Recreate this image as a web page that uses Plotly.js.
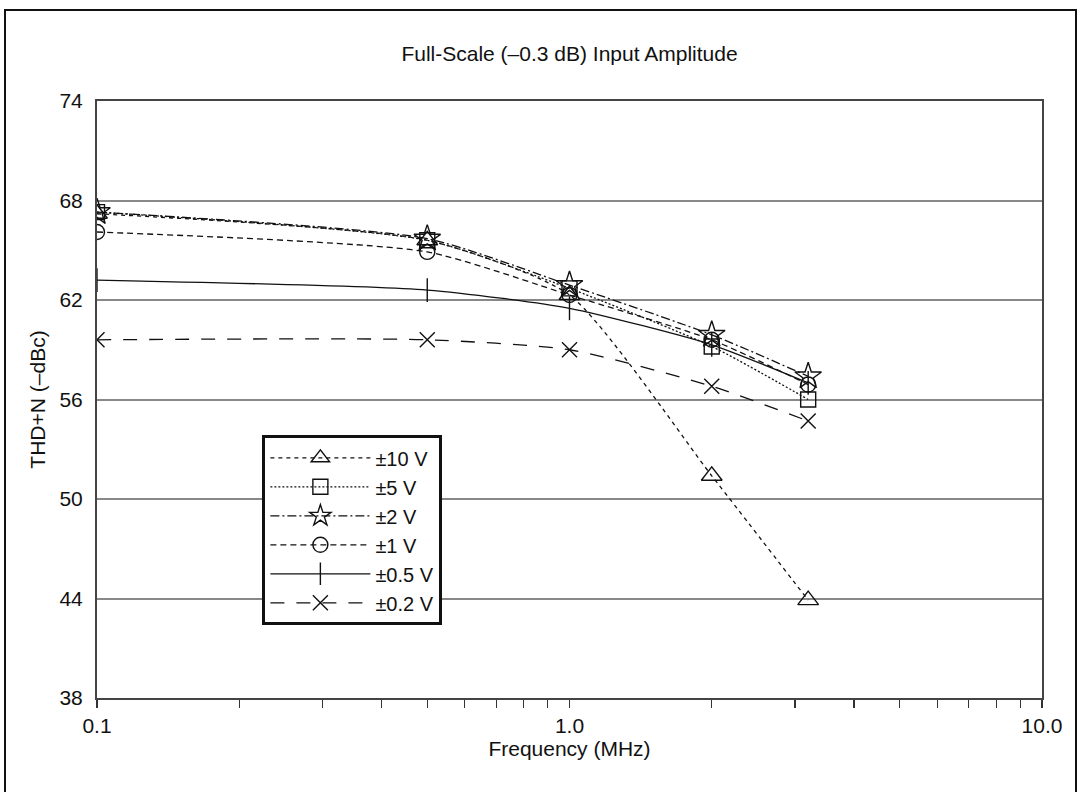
<!DOCTYPE html>
<html>
<head>
<meta charset="utf-8">
<script src="https://cdn.plot.ly/plotly-3.0.1.min.js"></script>
<style>
  html, body { margin: 0; padding: 0; background: #fff; }
  #frame { position: absolute; left: 4px; top: 9px; width: 1073px; height: 800px; border: 2.5px solid #111; box-sizing: border-box; }
  #chart { position: absolute; left: 0; top: 0; width: 1079px; height: 792px; }
</style>
</head>
<body>
<div id="frame"></div>
<div id="chart"></div>
<script>
// Frequencies (MHz)
const freq = [0.1, 0.5, 1.0, 2.0, 3.2];
// THD+N (-dBc) per input range
const v10  = [67.2, 65.6, 62.3, 51.4, 43.9];
const v5   = [67.3, 65.6, 62.7, 59.2, 56.0];
const v2   = [67.3, 65.7, 62.9, 59.9, 57.4];
const v1   = [66.1, 64.9, 62.3, 59.6, 56.9];
const v05  = [63.2, 62.6, 61.5, 59.3, 57.0];
const v02  = [59.6, 59.6, 59.0, 56.8, 54.7];
const seriesNames = ['±10 V', '±5 V', '±2 V', '±1 V', '±0.5 V', '±0.2 V'];
const xTickVals = [0.1,0.2,0.3,0.4,0.5,0.6,0.7,0.8,0.9,1,2,3,4,5,6,7,8,9,10];
const xTickText = ['0.1','','','','','','','','','1.0','','','','','','','','','10.0'];
const yTickVals = [38, 44, 50, 56, 62, 68, 74];

const values = [v10, v5, v2, v1, v05, v02];
const symbols = ['triangle-up-open','square-open','star-open','circle-open','line-ns-open','x-thin-open'];
const dashes = ['4px,4px','2px,2px','9px,3px,2px,3px','6px,4px','solid','14px,12px'];
const sizes = [18, 15, 20, 15, 17, 15];

const traces = values.map((v, i) => ({
  x: freq, y: v, name: seriesNames[i], type: 'scatter', mode: 'lines+markers',
  line: {color: '#111', width: 1.3, dash: dashes[i], shape: 'spline', smoothing: 0.6},
  marker: {symbol: symbols[i], size: sizes[i], color: '#111', line: {color: '#111', width: 1.4}}
}));

const layout = {
  width: 1079, height: 792,
  paper_bgcolor: 'rgba(0,0,0,0)', plot_bgcolor: '#fff',
  margin: {l: 97, r: 37, t: 101, b: 94},
  font: {family: 'Liberation Sans, Arial, sans-serif', color: '#111', size: 20},
  title: {text: 'Full-Scale (–0.3 dB) Input Amplitude', x: 0.5, xref: 'paper', y: 0.932, yanchor: 'middle', font: {size: 21}},
  xaxis: {
    type: 'log', range: [-1, 1],
    tickvals: xTickVals, ticktext: xTickText,
    ticks: 'outside', ticklen: 8, tickwidth: 1.2, tickcolor: '#333',
    showgrid: false, showline: true, linecolor: '#444', linewidth: 2, mirror: true,
    tickfont: {size: 21}, zeroline: false,
    title: {text: 'Frequency (MHz)', font: {size: 21}, standoff: 3}
  },
  yaxis: {
    range: [38, 74], tickvals: yTickVals, ticks: '',
    showgrid: true, gridcolor: '#888', gridwidth: 2,
    showline: true, linecolor: '#444', linewidth: 2, mirror: true,
    tickfont: {size: 21}, zeroline: false, ticklabelstandoff: 8,
    title: {text: 'THD+N (–dBc)', font: {size: 21}, standoff: 8}
  },
  showlegend: true,
  legend: {
    x: 0.175, y: 0.44, xanchor: 'left', yanchor: 'top',
    bgcolor: '#fff', bordercolor: '#111', borderwidth: 3,
    font: {size: 20}, itemwidth: 100, tracegroupgap: 0
  }
};

Plotly.newPlot('chart', traces, layout, {displayModeBar: false, staticPlot: true});
</script>
</body>
</html>
